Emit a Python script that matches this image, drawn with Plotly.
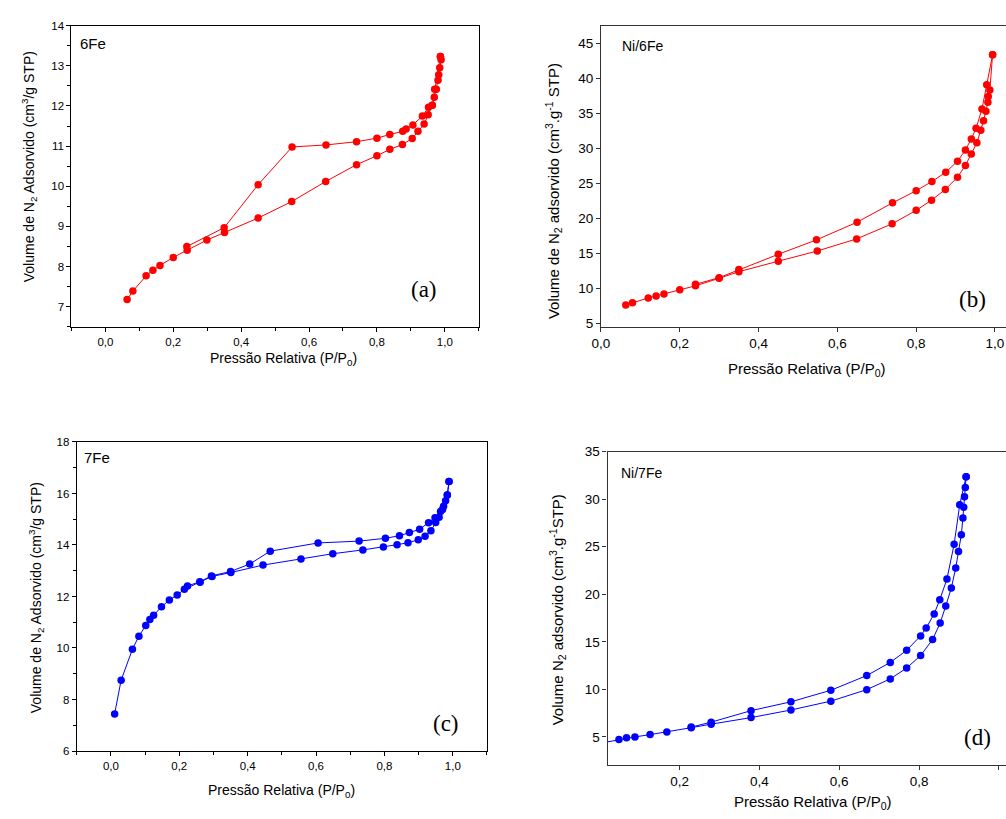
import plotly.graph_objects as go

W, H = 1006, 819

# ---------------- data ----------------
# (a) 6Fe
a_ads_x = [0.064, 0.081, 0.12, 0.14, 0.161, 0.2, 0.241, 0.299, 0.351, 0.45, 0.549, 0.649, 0.74, 0.80,
           0.838, 0.875, 0.904, 0.921, 0.939, 0.951, 0.963, 0.969, 0.975, 0.98, 0.982, 0.985, 0.989, 0.987]
a_ads_y = [7.18, 7.39, 7.77, 7.91, 8.03, 8.23, 8.41, 8.66, 8.85, 9.21, 9.62, 10.12, 10.54, 10.76,
           10.92, 11.04, 11.19, 11.37, 11.55, 11.78, 12.02, 12.22, 12.42, 12.64, 12.78, 12.95, 13.15, 13.23]
a_des_x = [0.987, 0.97, 0.963, 0.952, 0.934, 0.906, 0.886, 0.876, 0.838, 0.80, 0.74, 0.65, 0.55, 0.45, 0.35, 0.24]
a_des_y = [13.23, 12.42, 12.02, 11.97, 11.75, 11.53, 11.43, 11.37, 11.29, 11.2, 11.11, 11.03, 10.98, 10.04, 8.97, 8.5]

# (b) Ni/6Fe
b_ads_x = [0.063, 0.08, 0.12, 0.14, 0.16, 0.2, 0.24, 0.3, 0.35, 0.45, 0.549, 0.649, 0.739, 0.8, 0.839,
           0.874, 0.905, 0.925, 0.94, 0.954, 0.964, 0.971, 0.977, 0.982, 0.983, 0.987, 0.994]
b_ads_y = [7.63, 7.96, 8.66, 8.94, 9.22, 9.83, 10.39, 11.46, 12.4, 13.9, 15.35, 17.08, 19.23, 21.15, 22.6,
           24.14, 25.88, 27.56, 29.2, 30.79, 32.57, 33.92, 35.28, 36.58, 37.38, 38.32, 43.37]
b_des_x = [0.994, 0.979, 0.967, 0.952, 0.94, 0.925, 0.905, 0.875, 0.84, 0.8, 0.74, 0.65, 0.547, 0.45, 0.35, 0.3, 0.24]
b_des_y = [43.37, 39.06, 35.6, 32.85, 31.35, 29.76, 28.16, 26.58, 25.27, 23.95, 22.22, 19.46, 16.94, 14.88, 12.73, 11.55, 10.6]

# (c) 7Fe
c_ads_x = [0.011, 0.03, 0.063, 0.082, 0.102, 0.114, 0.125, 0.148, 0.171, 0.194, 0.215, 0.261, 0.296, 0.351,
           0.445, 0.556, 0.649, 0.737, 0.797, 0.837, 0.869, 0.899, 0.919, 0.936, 0.95, 0.96, 0.97, 0.979, 0.984, 0.989]
c_ads_y = [7.44, 8.75, 9.95, 10.46, 10.87, 11.11, 11.27, 11.6, 11.86, 12.06, 12.28, 12.55, 12.78, 12.93,
           13.22, 13.46, 13.66, 13.81, 13.92, 14.01, 14.09, 14.2, 14.34, 14.55, 14.87, 15.08, 15.38, 15.72, 15.94, 16.47]
c_des_x = [0.989, 0.984, 0.973, 0.964, 0.948, 0.929, 0.903, 0.873, 0.844, 0.803, 0.726, 0.606, 0.466, 0.406,
           0.35, 0.294, 0.26, 0.224]
c_des_y = [16.47, 15.94, 15.5, 15.3, 15.06, 14.86, 14.61, 14.48, 14.36, 14.26, 14.15, 14.08, 13.76, 13.26,
           12.97, 12.8, 12.57, 12.41]

# (d) Ni/7Fe
d_ads_x = [0.0, 0.048, 0.067, 0.088, 0.126, 0.168, 0.229, 0.279, 0.379, 0.479, 0.579, 0.669, 0.728, 0.769,
           0.804, 0.834, 0.853, 0.867, 0.881, 0.892, 0.899, 0.906, 0.91, 0.912, 0.914, 0.916, 0.918]
d_ads_y = [4.33, 4.72, 4.9, 5.0, 5.24, 5.52, 5.97, 6.34, 7.03, 7.83, 8.76, 9.97, 11.1, 12.24,
           13.55, 15.24, 16.97, 18.76, 20.66, 22.76, 24.49, 26.25, 28.0, 29.14, 30.24, 31.21, 32.35]
d_des_x = [0.918, 0.902, 0.888, 0.87, 0.852, 0.838, 0.818, 0.804, 0.769, 0.728, 0.669, 0.579, 0.479, 0.379, 0.279, 0.229]
d_des_y = [32.35, 29.41, 25.25, 21.59, 19.42, 17.93, 16.45, 15.62, 14.1, 12.83, 11.45, 9.9, 8.69, 7.76, 6.55, 6.03]

panels = [
    dict(ax="", ads=(a_ads_x, a_ads_y), des=(a_des_x, a_des_y), color="#ff0000"),
    dict(ax="2", ads=(b_ads_x, b_ads_y), des=(b_des_x, b_des_y), color="#ff0000"),
    dict(ax="3", ads=(c_ads_x, c_ads_y), des=(c_des_x, c_des_y), color="#0000ff"),
    dict(ax="4", ads=(d_ads_x, d_ads_y), des=(d_des_x, d_des_y), color="#0000ff"),
]

fig = go.Figure()
for p in panels:
    for xs, ys in (p["ads"], p["des"]):
        fig.add_trace(go.Scatter(
            x=xs, y=ys, mode="lines+markers",
            line=dict(color=p["color"], width=1),
            marker=dict(color=p["color"], size=7.5),
            xaxis="x" + p["ax"], yaxis="y" + p["ax"], showlegend=False,
        ))

def dx(px0, px1):
    return [px0 / W, px1 / W]

def dy(top, bottom):
    return [1 - bottom / H, 1 - top / H]

FONT = "Liberation Sans, Arial, sans-serif"

def axis_common(size, color="#000"):
    return dict(showline=True, linecolor=color, linewidth=1.2, ticks="outside", ticklen=4,
                tickcolor=color, tickwidth=1, showgrid=False, zeroline=False,
                tickfont=dict(family=FONT, size=size, color="#000"))

layout = dict(
    width=W, height=H, margin=dict(l=0, r=0, t=0, b=0),
    paper_bgcolor="white", plot_bgcolor="white", separators=",.",
    showlegend=False,
)

# (a)
layout["xaxis"] = dict(axis_common(11.5), domain=dx(63, 474), range=[-0.1, 1.1], tick0=0, dtick=0.2,
                       tickformat=".1f", mirror=True, anchor="y",
                       minor=dict(dtick=0.1, tick0=0, ticks="outside", ticklen=3, tickcolor="#000"))
layout["yaxis"] = dict(axis_common(11.5), domain=dy(19, 325), range=[6.5, 14], dtick=1, mirror=True, anchor="x",
                       minor=dict(dtick=0.5, tick0=0, ticks="outside", ticklen=3, tickcolor="#000"))
# (b)
layout["xaxis2"] = dict(axis_common(13.5, "#333"), domain=dx(597.3, 1006), range=[0, 1.028], tick0=0, dtick=0.2,
                        tickformat=".1f", mirror=True, anchor="y2")
layout["yaxis2"] = dict(axis_common(13.5, "#333"), domain=dy(19, 325), range=[4.53, 47.5], tick0=0, dtick=5,
                        mirror=False, anchor="x2")
# (c)
layout["xaxis3"] = dict(axis_common(11.5), domain=dx(68.3, 482.3), range=[-0.1, 1.1], tick0=0, dtick=0.2,
                        tickformat=".1f", mirror=True, anchor="y3",
                        minor=dict(dtick=0.1, tick0=0, ticks="outside", ticklen=3, tickcolor="#000"))
layout["yaxis3"] = dict(axis_common(11.5), domain=dy(442, 756), range=[6, 18], tick0=0, dtick=2, mirror=True,
                        anchor="x3",
                        minor=dict(dtick=1, tick0=0, ticks="outside", ticklen=3, tickcolor="#000"))
# (d)
layout["xaxis4"] = dict(axis_common(13.5, "#333"), domain=dx(604, 1006), range=[0.0195, 1.018], tick0=0, dtick=0.2,
                        tickformat=".1f", mirror=True, anchor="y4")
layout["yaxis4"] = dict(axis_common(13.5, "#333"), domain=dy(451.7, 770), range=[2.07, 35], tick0=0, dtick=5,
                        mirror=False, anchor="x4")

fig.update_layout(**layout)

def ann(text, x, y, size, angle=0, family=FONT, xanchor="center"):
    fig.add_annotation(text=text, x=x / W, y=1 - y / H, xref="paper", yref="paper",
                       showarrow=False, textangle=angle, xanchor=xanchor, yanchor="middle",
                       font=dict(family=family, size=size, color="#000"))

XT = "Pressão Relativa (P/P<sub>0</sub>)"
YT_a = "Volume de N<sub>2</sub> Adsorvido (cm<sup>3</sup>/g STP)"
YT_b = "Volume de N<sub>2</sub> adsorvido (cm<sup>3</sup>.g<sup>-1</sup> STP)"
YT_d = "Volume N<sub>2</sub> adsorvido (cm<sup>3</sup>.g<sup>-1</sup>STP)"

# axis titles
ann(XT, 277, 358, 14)
ann(YT_a, 21, 162, 14, angle=-90)
ann(XT, 805, 368, 15)
ann(YT_b, 549, 187, 15, angle=-90)
ann(XT, 275, 797, 14)
ann(YT_a, 28, 600, 14, angle=-90)
ann(XT, 811, 808, 15)
ann(YT_d, 553, 613, 15, angle=-90)

# sample labels
ann("6Fe", 70, 37, 15, xanchor="left")
ann("Ni/6Fe", 617, 40, 14, xanchor="left")
ann("7Fe", 74, 458, 15, xanchor="left")
ann("Ni/7Fe", 616, 474, 14, xanchor="left")

# panel letters
SERIF = "Liberation Serif, Times New Roman, serif"
ann("(a)", 419, 287, 23, family=SERIF)
ann("(b)", 972, 297, 23, family=SERIF)
ann("(c)", 441, 728, 23, family=SERIF)
ann("(d)", 977, 742, 23, family=SERIF)

fig.write_html("out.html", config={"displayModeBar": False},
               post_script="document.body.style.margin='0';document.body.style.overflow='hidden';")
